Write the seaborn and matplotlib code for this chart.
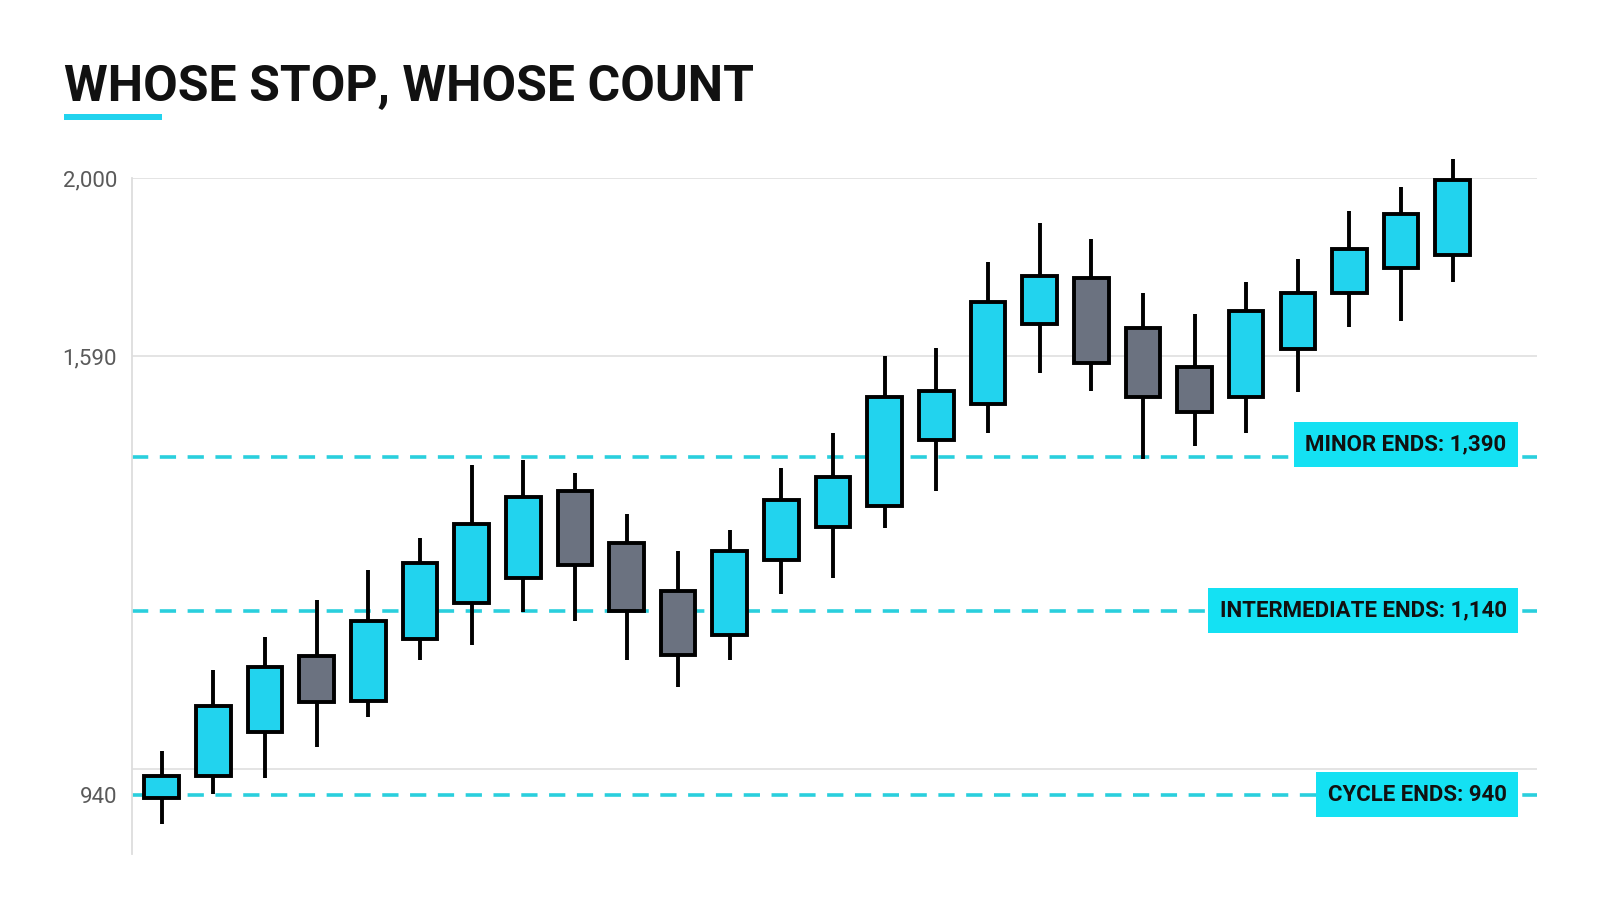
import numpy as np
import pandas as pd
import seaborn as sns
from matplotlib import pyplot as plt
from matplotlib.patches import Rectangle
import matplotlib.transforms as mtransforms

# candle data
opens = [936, 960, 1008, 1091, 1042, 1109, 1152, 1193, 1335, 1250, 1172, 1114, 1222,
         1277, 1310, 1424, 1495, 1663, 1769, 1656, 1568, 1509, 1606, 1736, 1793, 1823]
closes = [960, 1036, 1079, 1041, 1129, 1218, 1282, 1325, 1215, 1140, 1092, 1237, 1320,
          1358, 1509, 1521, 1715, 1774, 1576, 1509, 1479, 1694, 1736, 1837, 1918, 1995]
highs = [988, 1076, 1112, 1157, 1207, 1258, 1377, 1385, 1365, 1298, 1238, 1272, 1373,
         1438, 1590, 1609, 1807, 1896, 1861, 1736, 1687, 1762, 1814, 1925, 1979, 2045]
lows = [908, 941, 958, 992, 1024, 1087, 1103, 1139, 1129, 1087, 1057, 1087, 1168,
        1193, 1275, 1335, 1438, 1556, 1521, 1387, 1412, 1438, 1519, 1658, 1672, 1760]

level_values = [1390, 1140, 940]
level_labels = ["MINOR ENDS: 1,390", "INTERMEDIATE ENDS: 1,140", "CYCLE ENDS: 940"]
tick_values = [2000, 1590, 940]
tick_labels = ["2,000", "1,590", "940"]
grid_values = [2000, 1590, 968]

df = pd.DataFrame({"open": opens, "close": closes, "high": highs, "low": lows})
df["i"] = np.arange(len(df))
df["up"] = df["close"] >= df["open"]

CYAN = "#22D3EE"
BOX = "#14E1F3"
GRAY = "#6B7280"

sns.set_theme(style="white")
plt.rcParams["font.family"] = ["Roboto", "DejaVu Sans"]

# the picture's price axis is not linear: piecewise scale through the labelled levels
anchor_price = np.array([800, 940, 1140, 1390, 1590, 2000, 2300], dtype=float)
anchor_pos = np.array([0, 126, 306, 456, 555, 729, 856], dtype=float)


def fwd(v):
    return np.interp(v, anchor_price, anchor_pos)


def inv(p):
    return np.interp(p, anchor_pos, anchor_price)


fig = plt.figure(figsize=(16, 9.14), dpi=100)
ax = fig.add_axes([0.0827, 0.066, 0.8782, 0.739])
ax.set_yscale("function", functions=(fwd, inv))

# grid + levels
for g in grid_values:
    ax.axhline(g, color="#e2e2e2", lw=1.3, zorder=0)
for v in level_values:
    ax.axhline(v, color="#2ACFDD", lw=2.6, ls=(0, (4.5, 3.2)), zorder=1)

# candles
body_w = 0.67
for _, r in df.iterrows():
    ax.vlines(r["i"], r["low"], r["high"], color="black", lw=2.8, zorder=2, clip_on=False)
    lo = min(r["open"], r["close"])
    hi = max(r["open"], r["close"])
    ax.bar(r["i"], hi - lo, bottom=lo, width=body_w,
           color=CYAN if r["up"] else GRAY, edgecolor="black", linewidth=2.8,
           zorder=3, clip_on=False)

ax.set_xlim(-0.57, 26.64)
ax.set_ylim(876, 2000)
ax.set_xticks([])
ax.set_yticks(tick_values)
ax.set_yticklabels(tick_labels)
ax.tick_params(axis="y", length=0, pad=11, labelsize=16, labelcolor="#5a5a5a")
for s in ["top", "right", "bottom"]:
    ax.spines[s].set_visible(False)
ax.spines["left"].set_color("#dddddd")
ax.spines["left"].set_linewidth(1.3)

# level tags
trans = mtransforms.blended_transform_factory(ax.transAxes, ax.transData)
tag_y = [1415, 1140, 940]
for v, t in zip(tag_y, level_labels):
    ax.text(0.978, v, t, transform=trans, ha="right", va="center",
            fontsize=16, fontweight="bold", color="#111111", zorder=5,
            bbox=dict(boxstyle="square,pad=0.52", fc=BOX, ec="none"))

# title
fig.text(0.0397, 0.89, "WHOSE STOP, WHOSE COUNT", fontsize=36, fontweight="bold",
         color="#111111", va="baseline", ha="left")
fig.patches.append(Rectangle((0.0397, 0.8687), 0.0616, 0.0062, transform=fig.transFigure,
                             facecolor=CYAN, edgecolor="none"))

fig.savefig("out.png", dpi=100, facecolor="white")
